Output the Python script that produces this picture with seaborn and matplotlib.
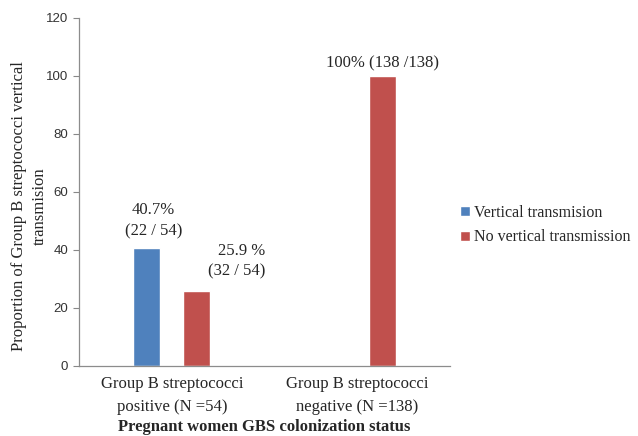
import numpy as np
import pandas as pd
import matplotlib
matplotlib.use("Agg")
import matplotlib.pyplot as plt
import seaborn as sns

# ---- data -------------------------------------------------------------
groups = ["Group B streptococci\npositive (N =54)",
          "Group B streptococci\nnegative (N =138)"]
series = ["Vertical transmision", "No vertical transmission"]
vertical = [40.7, 0.0]
no_vertical = [25.9, 100.0]
bar_labels = {
    (0, 0): "40.7%\n(22 / 54)",
    (1, 0): "25.9 %\n(32 / 54)",
    (1, 1): "100% (138 /138)",
}
colors = ["#4F81BD", "#C0504D"]

df = pd.DataFrame({
    "group": groups * 2,
    "series": [series[0]] * 2 + [series[1]] * 2,
    "value": vertical + no_vertical,
})

sns.set_style("white")
plt.rcParams["font.family"] = ["Liberation Serif", "DejaVu Serif"]

fig = plt.figure(figsize=(6.38, 4.36), dpi=100)
ax = fig.add_axes([0.124, 0.1606, 0.581, 0.7984])

sns.barplot(data=df, x="group", y="value", hue="series", palette=colors,
            width=0.54, gap=0.46, ax=ax, legend=True, saturation=1)

ax.set_ylim(0, 120)
ax.set_yticks(np.arange(0, 121, 20))
ax.set_xlim(-0.5, 1.5)

for lab in ax.get_yticklabels():
    lab.set_fontfamily("Liberation Sans")
    lab.set_fontsize(9.5)
    lab.set_color("#333333")
for lab in ax.get_xticklabels():
    lab.set_linespacing(1.55)
ax.tick_params(axis="y", left=True, length=4, color="#888888", pad=4)
ax.tick_params(axis="x", bottom=False, labelsize=12, pad=4)

for side in ["top", "right"]:
    ax.spines[side].set_visible(False)
for side in ["left", "bottom"]:
    ax.spines[side].set_color("#8c8c8c")
    ax.spines[side].set_linewidth(0.9)

ax.set_ylabel("Proportion of Group B streptococci vertical\ntransmision",
              fontsize=12, linespacing=1.45)
ax.yaxis.set_label_coords(-0.084, 0.46)
ax.set_xlabel("Pregnant women GBS colonization status", fontsize=12,
              fontweight="bold", labelpad=3)

# value labels, placed relative to each bar
offsets = {
    (0, 0): (5, 6),
    (1, 0): (28.5, 8),
    (1, 1): (0, 3),
}
for s_idx, cont in enumerate(ax.containers):
    for g_idx, bar in enumerate(cont):
        key = (s_idx, g_idx)
        if key not in bar_labels:
            continue
        dx, dy = offsets[key]
        ax.annotate(bar_labels[key],
                    xy=(bar.get_x() + bar.get_width() / 2, bar.get_height()),
                    xytext=(dx, dy), textcoords="offset points",
                    ha="center", va="bottom", fontsize=12,
                    multialignment="right" if key == (1, 0) else "center",
                    linespacing=1.4 if key == (1, 0) else 1.5)

ax.legend(loc="center left", bbox_to_anchor=(1.0, 0.405), frameon=False,
          fontsize=11.5, handlelength=0.6, handleheight=0.6,
          handletextpad=0.25, labelspacing=0.55, borderaxespad=0.25)

fig.savefig("out.png", dpi=100)
